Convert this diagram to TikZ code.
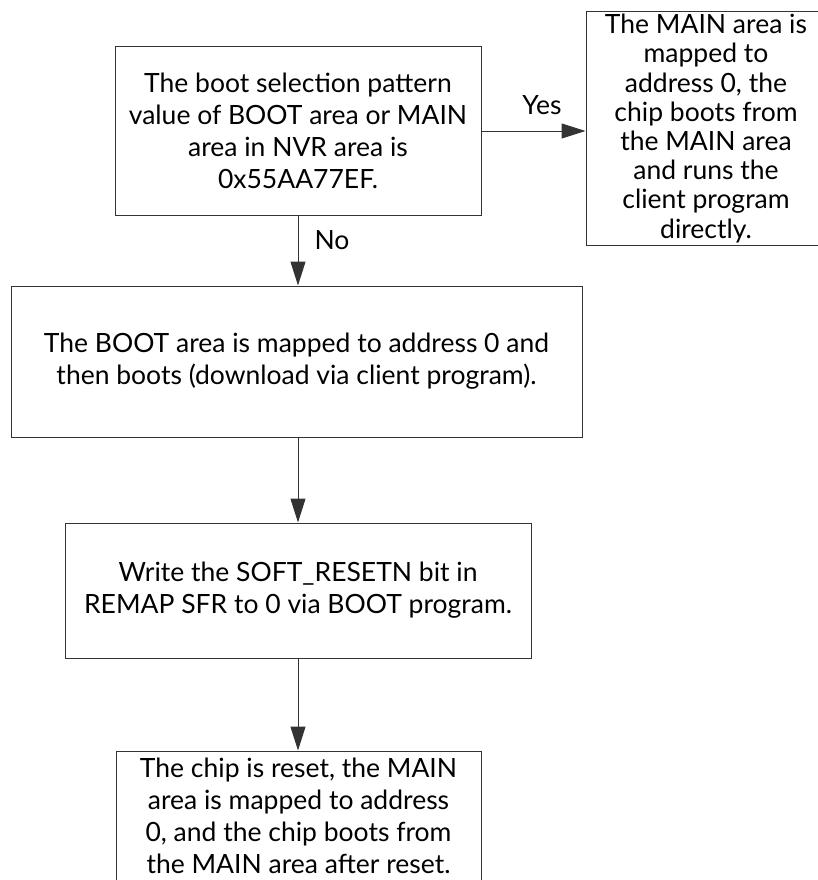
\documentclass[tikz,border=0pt]{standalone}
\usepackage{fontspec}
\setmainfont{Lato}
\usetikzlibrary{arrows.meta,positioning}
\definecolor{cline}{HTML}{333333}
\tikzset{
  blk/.style={draw=cline, line width=1pt, rectangle, align=center, inner sep=0pt, fill=white, font=\fontsize{26.5}{32}\selectfont},
  tall/.style={blk, font=\fontsize{26.5}{29.2}\selectfont},
  pre/.style={-{Triangle[length=24pt,width=15pt]}, draw=cline, line width=1pt},
  lbl/.style={font=\fontsize{26.5}{30}\selectfont, inner sep=0pt},
}

\begin{document}
\begin{tikzpicture}[x=1pt,y=-1pt]
\clip (0,0) rectangle (818,880);
\node[blk, minimum width=366pt, minimum height=168pt] (sel) at (298,131)
  {The boot selection pattern\\value of BOOT area or MAIN\\area in NVR area is\\0x55AA77EF.};
\node[tall, minimum width=240pt, minimum height=233pt] (mainb) at (706,128.5)
  {The MAIN area is\\mapped to\\address 0, the\\chip boots from\\the MAIN area\\and runs the\\client program\\directly.};
\node[blk, minimum width=571pt, minimum height=151pt] (bootb) at (296.5,361.5)
  {The BOOT area is mapped to address 0 and\\then boots (download via client program).};
\node[blk, minimum width=466pt, minimum height=135pt] (soft) at (298,590.5)
  {Write the SOFT\_RESETN bit in\\REMAP SFR to 0 via BOOT program.};
\node[blk, minimum width=365pt, minimum height=130pt] (rst) at (298.5,816)
  {The chip is reset, the MAIN\\area is mapped to address\\0, and the chip boots from\\the MAIN area after reset.};
\draw[pre] (sel.east) -- (sel.east -| mainb.west);
\node[lbl] (yes) at (542,105) {Yes};
\draw[pre] (sel.south) -- (sel.south |- bootb.north);
\node[lbl] (no) at (332,240) {No};
\draw[pre] (bootb.south -| soft.north) -- (soft.north);
\draw[pre] (soft.south) -- (soft.south |- rst.north);
\end{tikzpicture}
\end{document}
